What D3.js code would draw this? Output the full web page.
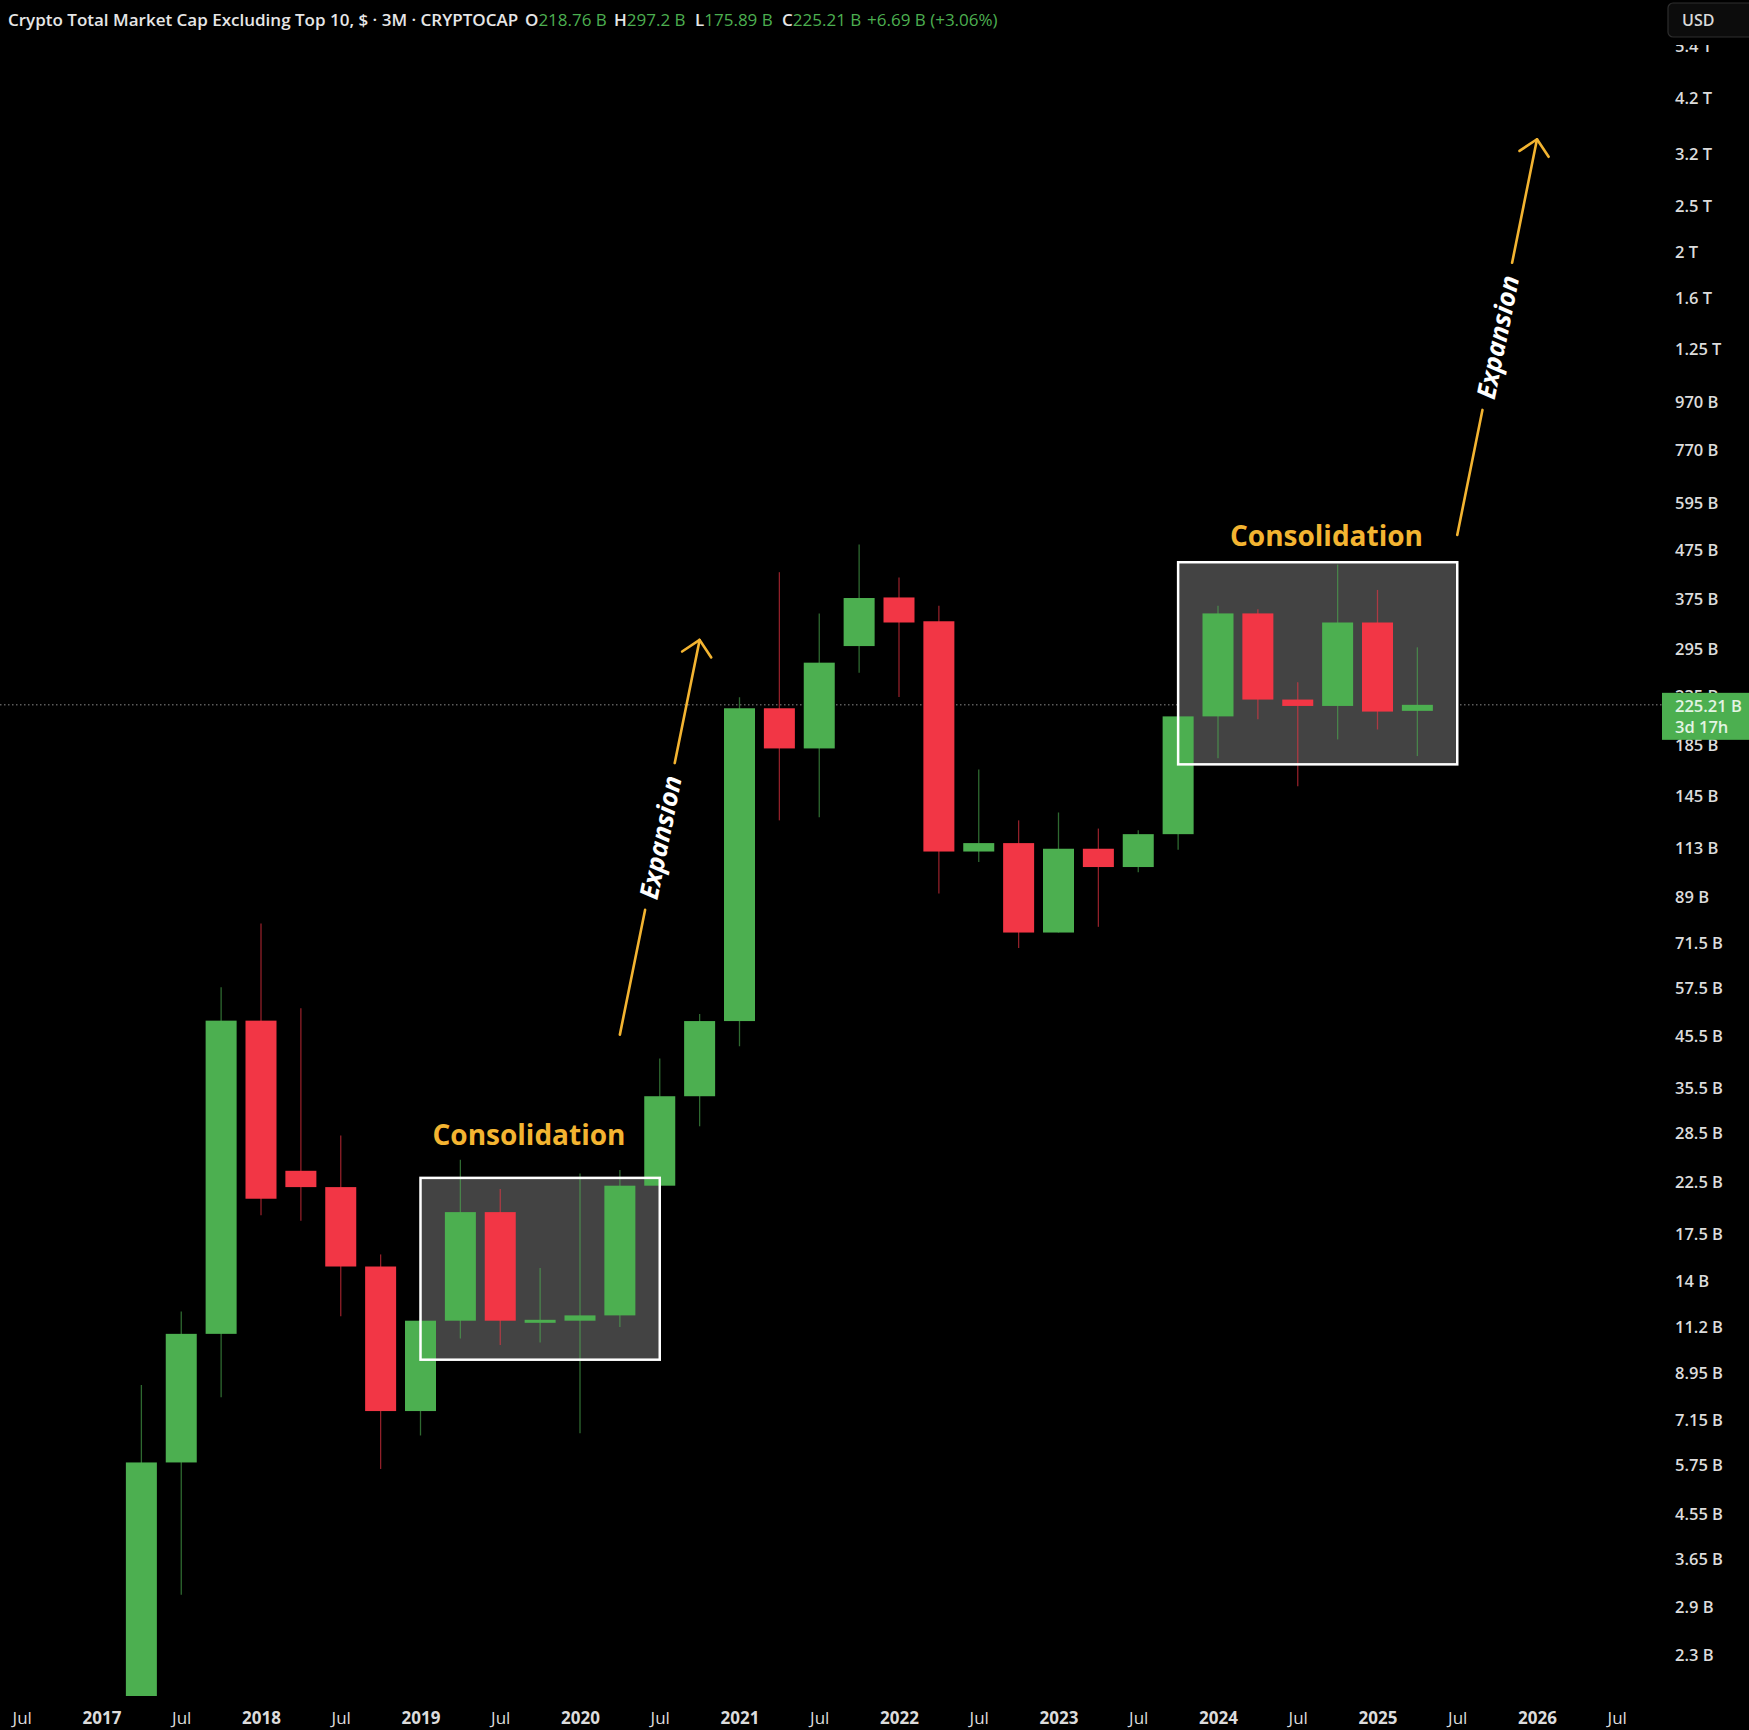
<!DOCTYPE html>
<html>
<head>
<meta charset="utf-8">
<script src="https://cdn.jsdelivr.net/npm/d3@7"></script>
<style>
  html, body { margin: 0; padding: 0; background: #000; }
  svg { display: block; }
</style>
</head>
<body>
<svg id="chart" width="1749" height="1730"></svg>
<script>
// ---------- DATA (values in billions USD) ----------
const quarters = ["2017Q2","2017Q3","2017Q4","2018Q1","2018Q2","2018Q3","2018Q4","2019Q1","2019Q2","2019Q3","2019Q4",
  "2020Q1","2020Q2","2020Q3","2020Q4","2021Q1","2021Q2","2021Q3","2021Q4","2022Q1","2022Q2","2022Q3","2022Q4",
  "2023Q1","2023Q2","2023Q3","2023Q4","2024Q1","2024Q2","2024Q3","2024Q4","2025Q1","2025Q2"];
const opens  = [1.75, 5.83, 10.84, 49.1, 23.8, 22.0, 15.0, 7.47, 11.55, 19.5, 11.55, 11.55, 11.85, 22.15, 34.1, 49.0,
  221.5, 182.5, 299, 378, 337, 111, 115.6, 75.1, 112.5, 103, 120.7, 213, 350, 231, 224, 335, 218.76];
const highs  = [8.47, 12.07, 57.7, 78.4, 52.1, 28.2, 15.9, 11.8, 25.1, 21.8, 14.9, 23.5, 23.9, 40.9, 50.7, 233.7,
  427, 350, 488, 416, 363, 164.8, 129, 134, 124, 123, 216, 363, 357, 251, 443, 392, 297.2];
const lows   = [1.7, 3.08, 7.98, 19.2, 18.7, 11.8, 5.65, 6.64, 10.6, 10.27, 10.4, 6.71, 11.2, 21.5, 29.5, 43.4,
  129, 131, 263, 234, 90.7, 105.5, 69.7, 75.1, 77.2, 100.5, 112, 174, 210, 152, 190.6, 200, 175.89];
const closes = [5.83, 10.84, 49.1, 20.8, 22.0, 15.0, 7.47, 11.55, 19.5, 11.55, 11.6, 11.85, 22.15, 34.1, 49.0, 221.5,
  182.5, 276, 377, 335, 111, 115.6, 75.1, 112.5, 103, 120.7, 213, 350, 231, 224, 335, 218, 225.21];

const yTickValues = [5400, 4200, 3200, 2500, 2000, 1600, 1250, 970, 770, 595, 475, 375, 295, 235, 185, 145, 113, 89,
  71.5, 57.5, 45.5, 35.5, 28.5, 22.5, 17.5, 14, 11.2, 8.95, 7.15, 5.75, 4.55, 3.65, 2.9, 2.3];
const yTickLabels = ["5.4 T","4.2 T","3.2 T","2.5 T","2 T","1.6 T","1.25 T","970 B","770 B","595 B","475 B","375 B",
  "295 B","235 B","185 B","145 B","113 B","89 B","71.5 B","57.5 B","45.5 B","35.5 B","28.5 B","22.5 B","17.5 B",
  "14 B","11.2 B","8.95 B","7.15 B","5.75 B","4.55 B","3.65 B","2.9 B","2.3 B"];
const xTickLabels = ["Jul","2017","Jul","2018","Jul","2019","Jul","2020","Jul","2021","Jul","2022","Jul","2023",
  "Jul","2024","Jul","2025","Jul","2026","Jul"];
const xTickQuarters = ["2016Q3","2017Q1","2017Q3","2018Q1","2018Q3","2019Q1","2019Q3","2020Q1","2020Q3","2021Q1",
  "2021Q3","2022Q1","2022Q3","2023Q1","2023Q3","2024Q1","2024Q3","2025Q1","2025Q3","2026Q1","2026Q3"];

// annotations in data space: [quarter, value]
const boxes = [
  {from: "2019Q1", to: "2020Q3", top: 23.0, bottom: 9.57, label: "Consolidation", labelAt: ["2019Q3", 27.0], labelShift: 0.72},
  {from: "2023Q4", to: "2025Q3", top: 448, bottom: 169, label: "Consolidation", labelAt: ["2024Q3", 485], labelShift: 0.72}
];
const arrows = [
  {from: ["2020Q2", 45.9], to: ["2020Q4", 308], label: "Expansion"},
  {from: ["2025Q3", 511], to: ["2026Q1", 3445], label: "Expansion"}
];
const lastPrice = 225.21;
const lastPriceLabel = "225.21 B";
const countdownLabel = "3d 17h";
const title = "Crypto Total Market Cap Excluding Top 10, $ · 3M · CRYPTOCAP";
const ohlcLabels = ["O", "H", "L", "C"];
const ohlcValues = ["218.76 B", "297.2 B", "175.89 B", "225.21 B"];
const changeLabel = "+6.69 B (+3.06%)";

// ---------- SETUP ----------
const W = 1749, H = 1730;
const plotRight = 1662, plotBottom = 1696;
const GREEN = "#4caf50", RED = "#f23645", ORANGE = "#f3b431";
const FONT = "'Open Sans', 'Noto Sans', sans-serif";

const qIndex = q => (+q.slice(0, 4) - 2017) * 4 + (+q.slice(5) - 1);

const x = d3.scaleLinear().domain([0, 36]).range([101.5, 1537]);
const y = d3.scaleLog().domain([2.3, 4200]).range([1655.3, 98.2]);

const svg = d3.select("#chart");
svg.append("rect").attr("width", W).attr("height", H).attr("fill", "#000");

const defs = svg.append("defs");
defs.append("clipPath").attr("id", "plotClip").append("rect")
  .attr("x", 0).attr("y", 0).attr("width", plotRight).attr("height", plotBottom);

const plot = svg.append("g").attr("clip-path", "url(#plotClip)");

// last price dotted line
plot.append("line")
  .attr("x1", 0).attr("x2", plotRight)
  .attr("y1", y(lastPrice)).attr("y2", y(lastPrice))
  .attr("stroke", "#8a8a8a").attr("stroke-width", 1).attr("stroke-dasharray", "1.5,2.5");

// boxes fill
boxes.forEach(b => {
  plot.append("rect")
    .attr("x", x(qIndex(b.from))).attr("y", y(b.top))
    .attr("width", x(qIndex(b.to)) - x(qIndex(b.from)))
    .attr("height", y(b.bottom) - y(b.top))
    .attr("fill", "#434343");
});

// candles
const candles = quarters.map((q, i) => ({q, i: qIndex(q), o: opens[i], h: highs[i], l: lows[i], c: closes[i]}));
const bodyW = 31;
const cg = plot.append("g");
cg.selectAll("line.wick").data(candles).join("line")
  .attr("class", "wick")
  .attr("x1", d => x(d.i)).attr("x2", d => x(d.i))
  .attr("y1", d => y(d.h)).attr("y2", d => y(d.l))
  .attr("stroke", d => d.c >= d.o ? GREEN : RED)
  .attr("stroke-opacity", 0.6)
  .attr("stroke-width", 1.3);
cg.selectAll("rect.body").data(candles).join("rect")
  .attr("class", "body")
  .attr("x", d => x(d.i) - bodyW / 2)
  .attr("width", bodyW)
  .attr("y", d => Math.min(y(d.o), y(d.c)))
  .attr("height", d => Math.max(3, Math.abs(y(d.o) - y(d.c))))
  .attr("fill", d => d.c >= d.o ? GREEN : RED);

// box borders and labels
boxes.forEach(b => {
  plot.append("rect")
    .attr("x", x(qIndex(b.from))).attr("y", y(b.top))
    .attr("width", x(qIndex(b.to)) - x(qIndex(b.from)))
    .attr("height", y(b.bottom) - y(b.top))
    .attr("fill", "none").attr("stroke", "#ffffff").attr("stroke-width", 2.5);
  plot.append("text")
    .attr("x", x(qIndex(b.labelAt[0]) + b.labelShift))
    .attr("y", y(b.labelAt[1]))
    .attr("text-anchor", "middle")
    .attr("font-family", FONT).attr("font-weight", 700).attr("font-size", 28)
    .attr("fill", ORANGE)
    .text(b.label);
});

// arrows
arrows.forEach(a => {
  const x0 = x(qIndex(a.from[0])), y0 = y(a.from[1]);
  const x1 = x(qIndex(a.to[0])), y1 = y(a.to[1]);
  const dx = x1 - x0, dy = y1 - y0, len = Math.hypot(dx, dy);
  const ux = dx / len, uy = dy / len;
  const g1 = 0.316, g2 = 0.688;
  const g = plot.append("g").attr("stroke", ORANGE).attr("stroke-width", 2.6).attr("stroke-linecap", "round").attr("fill", "none");
  g.append("line").attr("x1", x0).attr("y1", y0).attr("x2", x0 + dx * g1).attr("y2", y0 + dy * g1);
  g.append("line").attr("x1", x0 + dx * g2).attr("y1", y0 + dy * g2).attr("x2", x1).attr("y2", y1);
  const head = 21, ang = Math.PI / 4;
  const bx = -ux, by = -uy;
  const rot = (vx, vy, t) => [vx * Math.cos(t) - vy * Math.sin(t), vx * Math.sin(t) + vy * Math.cos(t)];
  const [ax1, ay1] = rot(bx, by, ang), [ax2, ay2] = rot(bx, by, -ang);
  g.append("path").attr("d", `M${x1 + ax1 * head},${y1 + ay1 * head}L${x1},${y1}L${x1 + ax2 * head},${y1 + ay2 * head}`)
    .attr("stroke-linejoin", "round");
  const cx = x0 + dx * 0.5, cy = y0 + dy * 0.5;
  const deg = Math.atan2(dy, dx) * 180 / Math.PI;
  plot.append("text")
    .attr("transform", `translate(${cx},${cy}) rotate(${deg})`)
    .attr("text-anchor", "middle").attr("dominant-baseline", "central")
    .attr("font-family", FONT).attr("font-weight", 700).attr("font-style", "italic").attr("font-size", 26)
    .attr("fill", "#ffffff")
    .text(a.label);
});

// ---------- Y AXIS ----------
const yAxisG = svg.append("g")
  .attr("transform", `translate(${plotRight},0)`)
  .call(d3.axisRight(y).tickValues(yTickValues).tickFormat((d, i) => yTickLabels[i]).tickSize(0).tickPadding(13));
yAxisG.select(".domain").remove();
yAxisG.selectAll("text")
  .attr("font-family", FONT).attr("font-size", 16.5).attr("font-weight", 600).attr("fill", "#dcdcdc");
// top of axis is masked (partially hidden top label, as in the original)
svg.append("rect").attr("x", plotRight).attr("y", 0).attr("width", W - plotRight).attr("height", 45).attr("fill", "#000");

// USD pill
svg.append("rect").attr("x", 1668).attr("y", 3).attr("width", 90).attr("height", 34).attr("rx", 5)
  .attr("fill", "#0c0c0c").attr("stroke", "#2e2e2e").attr("stroke-width", 1.2);
svg.append("text").attr("x", 1682).attr("y", 20).attr("dominant-baseline", "central")
  .attr("font-family", FONT).attr("font-size", 16).attr("font-weight", 600).attr("fill", "#d9d9d9").text("USD");

// last price label
const py = y(lastPrice);
svg.append("rect").attr("x", plotRight).attr("y", py - 12).attr("width", W - plotRight).attr("height", 47)
  .attr("fill", GREEN);
svg.append("text").attr("x", 1675).attr("y", py + 1).attr("dominant-baseline", "central")
  .attr("font-family", FONT).attr("font-size", 16.5).attr("font-weight", 600).attr("fill", "#e3f4e3").text(lastPriceLabel);
svg.append("text").attr("x", 1675).attr("y", py + 22).attr("dominant-baseline", "central")
  .attr("font-family", FONT).attr("font-size", 16.5).attr("font-weight", 600).attr("fill", "#e3f4e3").text(countdownLabel);

// ---------- X AXIS ----------
const xAxisG = svg.append("g")
  .attr("transform", `translate(0,${plotBottom})`)
  .call(d3.axisBottom(x).tickValues(xTickQuarters.map(qIndex)).tickFormat((d, i) => xTickLabels[i]).tickSize(0));
xAxisG.select(".domain").remove();
xAxisG.selectAll("text")
  .attr("y", 22).attr("dy", "0.35em")
  .attr("font-family", FONT).attr("font-size", 17)
  .attr("font-weight", (d, i) => xTickLabels[i] === "Jul" ? 500 : 700)
  .attr("fill", "#dcdcdc");

// ---------- HEADER ----------
const hdr = svg.append("g").attr("font-family", FONT).attr("font-size", 17).attr("font-weight", 600);
const hy = 19;
hdr.append("text").attr("x", 8).attr("y", hy).attr("dominant-baseline", "central").attr("fill", "#e6e6e6").text(title);
const ohlcX = [525, 614, 695, 782];
ohlcLabels.forEach((l, i) => {
  const t = hdr.append("text").attr("x", ohlcX[i]).attr("y", hy).attr("dominant-baseline", "central");
  t.append("tspan").attr("fill", "#e6e6e6").text(l);
  t.append("tspan").attr("fill", GREEN).attr("font-weight", 500).text(ohlcValues[i]);
});
hdr.append("text").attr("x", 867).attr("y", hy).attr("dominant-baseline", "central")
  .attr("fill", GREEN).attr("font-weight", 500).text(changeLabel);
</script>
</body>
</html>
